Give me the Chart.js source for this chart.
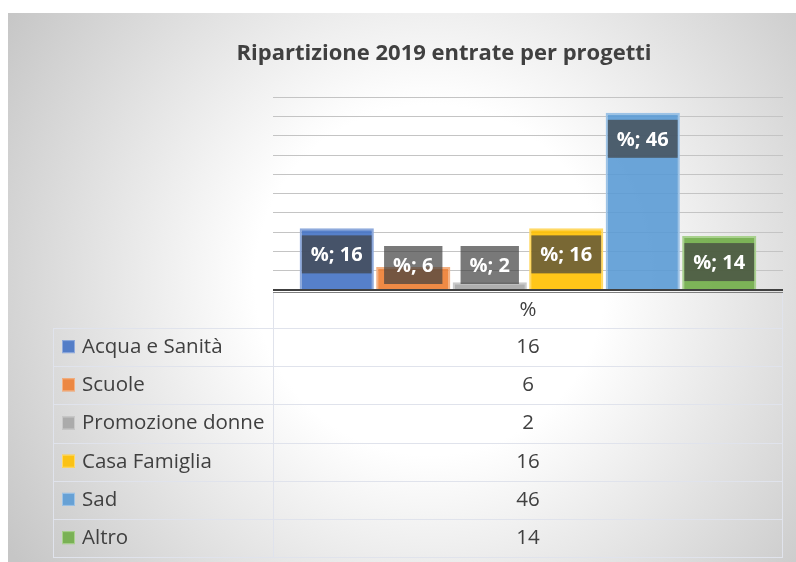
<!DOCTYPE html>
<html>
<head>
<meta charset="utf-8">
<script src="https://cdn.jsdelivr.net/npm/chart.js@4.4.1/dist/chart.umd.min.js"></script>
<style>
  html, body { margin: 0; padding: 0; background: #fff; }
  canvas { display: block; }
</style>
</head>
<body>
<canvas id="myChart" width="796" height="562"></canvas>
<script>
// data
const category = '%'
const projects = ['Acqua e Sanità', 'Scuole', 'Promozione donne', 'Casa Famiglia', 'Sad', 'Altro']
const shares = [16, 6, 2, 16, 46, 14]
const fills = ['rgba(68,114,196,0.9)', 'rgba(237,125,49,0.9)', 'rgba(165,165,165,0.9)',
               'rgba(255,192,0,0.9)', 'rgba(91,155,213,0.9)', 'rgba(112,173,71,0.9)']
const borders = ['#8faadc', '#f4b183', '#c9c9c9', '#ffd966', '#9dc3e6', '#a9d18e']
const yMax = 50
const yStep = 5

Chart.defaults.font.family = "'Open Sans', sans-serif"
Chart.defaults.color = '#404040'

var ctx = document.getElementById('myChart')

// gradient background of the chart frame
const backgroundPlugin = {
    id: 'frameBackground',
    beforeDraw(chart) {
        const c = chart.ctx
        c.save()
        c.fillStyle = '#ffffff'
        c.fillRect(0, 0, chart.width, chart.height)
        const g = c.createRadialGradient(430, 280, 0, 430, 280, 500)
        g.addColorStop(0, '#ffffff')
        g.addColorStop(0.35, '#ffffff')
        g.addColorStop(1, '#c6c6c6')
        c.fillStyle = g
        c.fillRect(8, 13, chart.width - 8, chart.height - 13)
        c.restore()
    }
}

// dark boxes with "%; value" inside the bars
const labelPlugin = {
    id: 'barLabels',
    afterDatasetsDraw(chart) {
        const c = chart.ctx
        const area = chart.chartArea
        c.save()
        c.font = "bold 20px 'Open Sans'"
        c.textAlign = 'center'
        c.textBaseline = 'middle'
        chart.data.datasets.forEach(function (ds, i) {
            const bar = chart.getDatasetMeta(i).data[0]
            const text = category + '; ' + ds.data[0]
            const w = c.measureText(text).width + 18
            const h = 38
            const top = Math.min(bar.y + 7, area.bottom - 6 - h)
            c.fillStyle = 'rgba(64,64,64,0.7)'
            c.fillRect(bar.x - w / 2, top, w, h)
            c.fillStyle = '#ffffff'
            c.fillText(text, bar.x, top + h / 2 + 1)
        })
        c.restore()
    }
}

// data table under the plot
const tablePlugin = {
    id: 'dataTable',
    afterDraw(chart) {
        const c = chart.ctx
        const area = chart.chartArea
        const top = area.bottom + 2
        const headH = 36
        const rowH = 38.2
        const legendLeft = 53
        const bottom = top + headH + rowH * projects.length
        c.save()
        c.strokeStyle = '#e0e3ec'
        c.lineWidth = 1
        c.beginPath()
        for (let i = 0; i <= projects.length; i++) {
            const y = Math.round(top + headH + rowH * i) + 0.5
            c.moveTo(legendLeft, y)
            c.lineTo(area.right, y)
        }
        c.moveTo(legendLeft + 0.5, top + headH)
        c.lineTo(legendLeft + 0.5, bottom)
        c.moveTo(area.left + 0.5, top)
        c.lineTo(area.left + 0.5, bottom)
        c.moveTo(area.right - 0.5, top)
        c.lineTo(area.right - 0.5, bottom)
        c.stroke()

        c.strokeStyle = '#7f7f7f'
        c.beginPath()
        c.moveTo(area.left, top + 0.5)
        c.lineTo(area.right, top + 0.5)
        c.stroke()

        const cx = (area.left + area.right) / 2
        c.font = "20.5px 'Open Sans'"
        c.fillStyle = '#404040'
        c.textBaseline = 'middle'
        c.textAlign = 'center'
        c.fillText(category, cx, top + headH / 2)
        projects.forEach(function (name, i) {
            const cy = top + headH + rowH * (i + 0.5)
            c.textAlign = 'center'
            c.fillStyle = '#404040'
            c.fillText(String(shares[i]), cx, cy)
            c.fillStyle = fills[i]
            c.fillRect(62, cy - 7, 13, 13)
            c.strokeStyle = borders[i]
            c.strokeRect(62.5, cy - 6.5, 12, 12)
            c.fillStyle = '#404040'
            c.textAlign = 'left'
            c.fillText(name, 82, cy)
        })
        c.restore()
    }
}

const datasets = projects.map(function (name, i) {
    return {
        label: name,
        data: [shares[i]],
        backgroundColor: fills[i],
        borderColor: borders[i],
        borderWidth: 2,
        categoryPercentage: 0.9,
        barPercentage: 0.97
    }
})

var myChart = new Chart(ctx, {
    type: 'bar',
    data: {
        labels: [category],
        datasets: datasets
    },
    options: {
        responsive: false,
        animation: false,
        devicePixelRatio: 1,
        layout: {
            padding: { left: 105, right: 13, top: 13, bottom: 272 }
        },
        plugins: {
            legend: { display: false },
            tooltip: { enabled: false },
            title: {
                display: true,
                text: 'Ripartizione 2019 entrate per progetti',
                color: '#404040',
                font: { size: 22, weight: 'bold' },
                padding: { top: 28, bottom: 30 }
            }
        },
        scales: {
            x: { display: false },
            y: {
                min: 0,
                max: yMax,
                ticks: { display: false, stepSize: yStep },
                border: { display: false },
                grid: {
                    drawTicks: false,
                    color: (c) => c.tick && c.tick.value === 0 ? '#404040' : '#c4c4c4',
                    lineWidth: (c) => c.tick && c.tick.value === 0 ? 2 : 1
                },
                afterFit: (scale) => { scale.width = 168 }
            }
        }
    },
    plugins: [backgroundPlugin, labelPlugin, tablePlugin]
})
</script>
</body>
</html>
